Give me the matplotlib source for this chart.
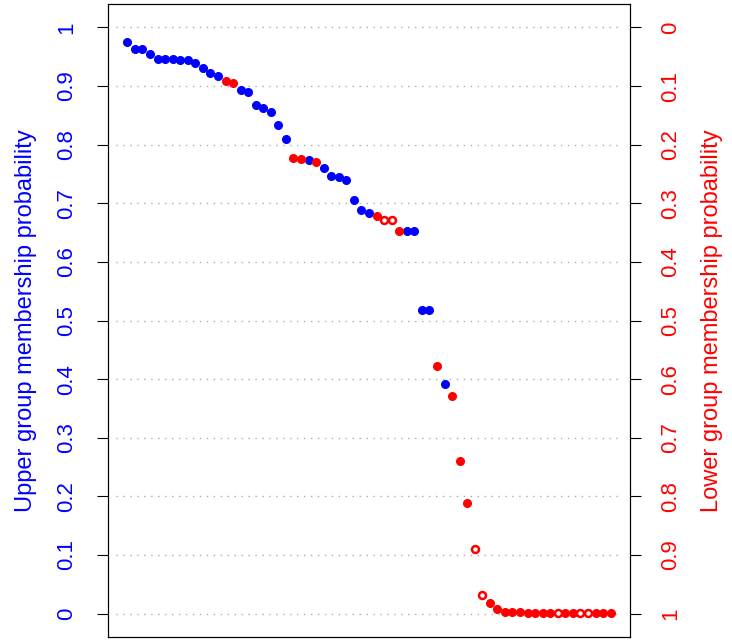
import numpy as np
import matplotlib.pyplot as plt

plt.rcParams['font.family'] = ['Liberation Sans', 'DejaVu Sans']

upper_prob = [.976, .964, .963, .955, .947, .947, .946, .944, .944, .939, .930, .923, .918,
              .909, .905, .893, .890, .868, .862, .856, .834, .810, .778, .776, .774, .771,
              .761, .747, .744, .740, .706, .689, .684, .678, .672, .671, .653, .652, .652,
              .518, .518, .422, .391, .371, .260, .188, .110, .031, .018, .007,
              .003, .003, .003] + [.001] * 12
# 'b' = upper group (blue), 'r' = lower group filled, 'o' = lower group open
group = list("bbbbbbbbbbbbbrrbbbbbbbrrbrbbbbbbbroorbb") + list("bbrbrrroorr") + \
        list("rrrrrrrorroorrr")

x = np.arange(1, len(upper_prob) + 1)
y = np.array(upper_prob)
g = np.array(group)

fig = plt.figure(figsize=(7.32, 6.41), dpi=100)
ax = fig.add_axes([108/732, 4/641, 522/732, 633/641])
ax.set_xlim(1 - 0.04*64, 65 + 0.04*64)
ax.set_ylim(-0.04, 1.04)
for v in np.arange(0, 1.01, 0.1):
    ax.plot([x[0]-1.5, x[-1]+1.5], [v, v], color='#aaaaaa', ls=(0, (1, 4)), lw=1, zorder=0)

m = g == 'b'
ax.plot(x[m], y[m], 'o', color='blue', ms=5.5, mec='blue')
m = g == 'r'
ax.plot(x[m], y[m], 'o', color='red', ms=5.5, mec='red')
m = g == 'o'
ax.plot(x[m], y[m], 'o', mfc='white', mec='red', mew=1.8, ms=5)

ax.set_xticks([])
ticks = np.round(np.arange(0, 1.01, 0.1), 1)
ax.set_yticks(ticks)
ax.set_yticklabels([f"{t:g}" for t in ticks], rotation=90, va='center', color='blue', fontsize=16)
ax.tick_params(axis='y', colors='black', labelcolor='blue', length=8, pad=14)
ax.set_ylabel("Upper group membership probability", color='blue', fontsize=17, labelpad=14)

ax2 = ax.twinx()
ax2.set_ylim(1.04, -0.04)
ax2.set_yticks(ticks)
ax2.set_yticklabels([f"{t:g}" for t in ticks], rotation=90, va='center', color='red', fontsize=16)
ax2.tick_params(axis='y', labelcolor='red', length=8, pad=14)
ax2.set_ylabel("Lower group membership probability", color='red', fontsize=17, labelpad=14)

fig.savefig("out.png")
